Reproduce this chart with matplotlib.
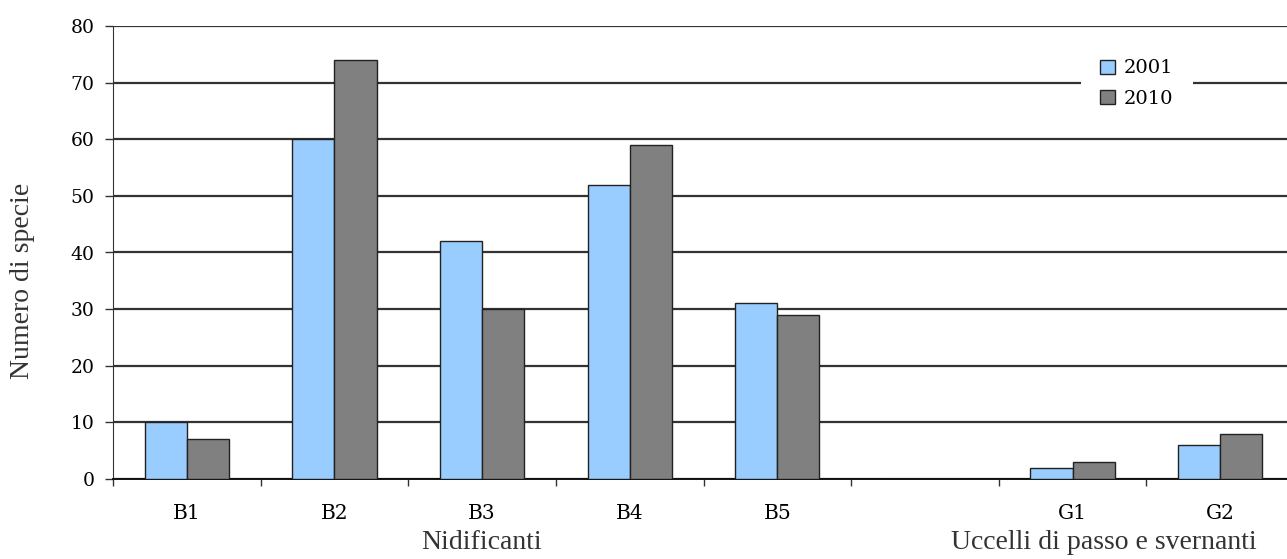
import matplotlib
matplotlib.use("Agg")
from matplotlib import pyplot as plt
import numpy as np

# data
categories = ['B1', 'B2', 'B3', 'B4', 'B5', '', 'G1', 'G2']
v2001 = [10, 60, 42, 52, 31, 0, 2, 6]
v2010 = [7, 74, 30, 59, 29, 0, 3, 8]
group_labels = ['Nidificanti', 'Uccelli di passo e svernanti']
group_pos = [2.0, 6.21]

tick_font = 'DejaVu Serif'
label_font = 'Liberation Serif'
plt.rcParams['font.family'] = tick_font

fig = plt.figure(figsize=(12.87, 5.59), dpi=100)
ax = fig.add_axes([113/1287, 80/559, 1181/1287, 453/559])

x = np.arange(len(categories))
w = 0.285
ax.bar(x - w/2, v2001, w, color='#99CCFF', edgecolor='#222222', linewidth=1.0,
       label='2001', zorder=3)
ax.bar(x + w/2, v2010, w, color='#808080', edgecolor='#222222', linewidth=1.0,
       label='2010', zorder=3)

ax.set_xlim(-0.5, len(categories) - 0.5)
ax.set_ylim(0, 80)
ax.set_yticks(np.arange(0, 81, 10))
ax.yaxis.grid(True, color='#333333', linewidth=1.6, zorder=0)
ax.set_axisbelow(True)

# ticks between categories, labels at centers
ax.set_xticks(np.arange(-0.5, len(categories), 1.0))
ax.set_xticklabels([])
ax.set_xticks(x, minor=True)
ax.set_xticklabels(categories, minor=True)
ax.tick_params(axis='x', which='minor', length=0, pad=18, labelsize=14.5)
ax.tick_params(axis='x', which='major', length=5, width=1, color='#333333')
ax.tick_params(axis='y', length=6, width=1, color='#333333', pad=7.5,
               labelsize=13.5)

for s in ['top', 'right']:
    ax.spines[s].set_visible(False)
ax.spines['left'].set_color('#333333')
ax.spines['bottom'].set_color('#111111')
ax.spines['bottom'].set_linewidth(1.4)

ax.set_ylabel('Numero di specie', fontfamily=label_font, fontsize=20,
              color='#333333')
ax.yaxis.set_label_coords(-0.066, 0.437)

for lab, pos in zip(group_labels, group_pos):
    ax.text(pos, -0.14, lab, transform=ax.get_xaxis_transform(), ha='center',
            va='center', fontfamily=label_font, fontsize=20, color='#333333')

leg = ax.legend(loc='upper left', bbox_to_anchor=(0.8196, 0.969), frameon=True,
                fancybox=False, edgecolor='none', facecolor='white', framealpha=1,
                prop={'family': tick_font, 'size': 14}, handlelength=0.75,
                handleheight=0.75, handletextpad=0.45, labelspacing=0.65,
                borderpad=1.0, borderaxespad=0)
leg.set_zorder(5)

plt.savefig('out.png', dpi=100)
